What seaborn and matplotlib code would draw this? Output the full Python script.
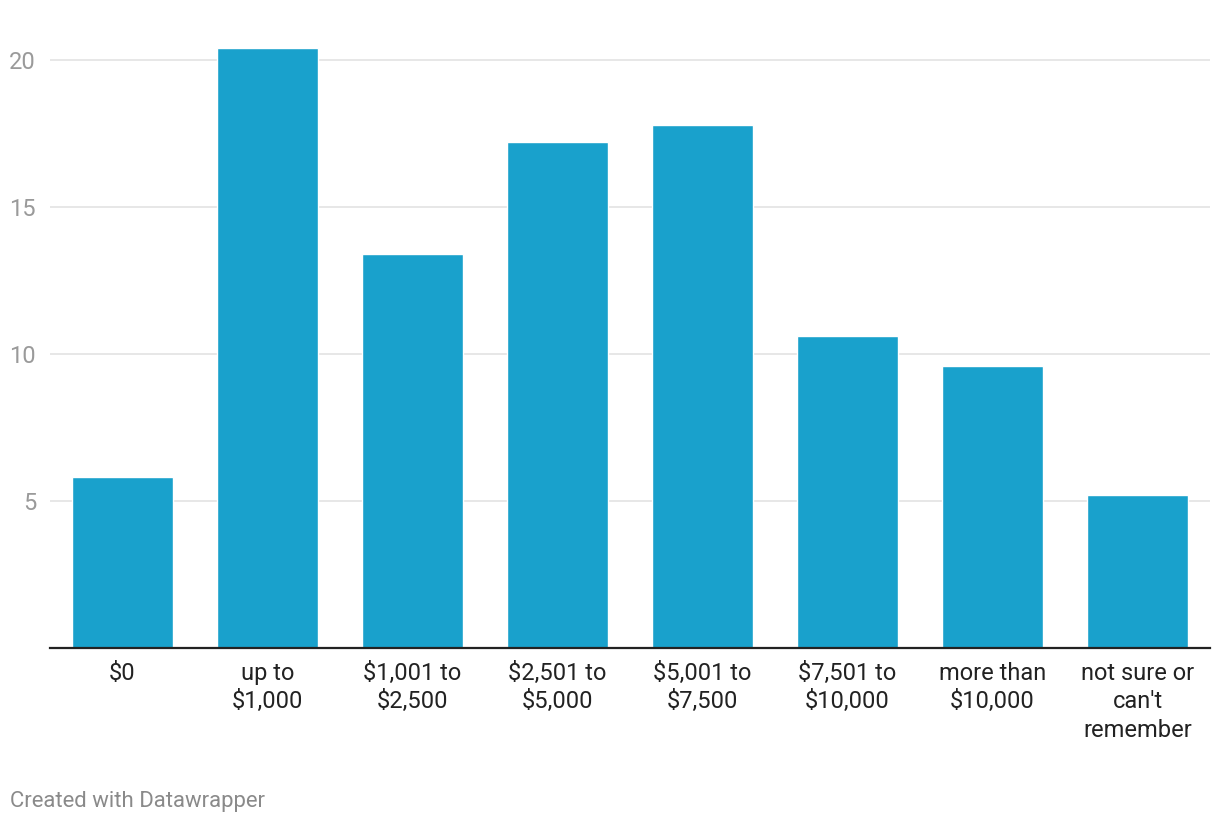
import matplotlib
matplotlib.use("Agg")
import matplotlib.pyplot as plt
import seaborn as sns
import pandas as pd

categories = ["$0", "up to\n$1,000", "$1,001 to\n$2,500", "$2,501 to\n$5,000",
              "$5,001 to\n$7,500", "$7,501 to\n$10,000", "more than\n$10,000",
              "not sure or\ncan't\nremember"]
values = [5.8, 20.4, 13.4, 17.2, 17.8, 10.6, 9.6, 5.2]
yticks = [5, 10, 15, 20]

sns.set_theme(style="white")
plt.rcParams['font.family'] = ['Roboto', 'DejaVu Sans']

W, H = 1220, 824
fig = plt.figure(figsize=(W / 100, H / 100), dpi=100)
top_px = 648 - 21 * 29.4
ax = fig.add_axes([50 / W, 1 - 648 / H, 1160 / W, (648 - top_px) / H])

df = pd.DataFrame({"cat": categories, "val": values})
sns.barplot(data=df, x="cat", y="val", color="#19a1cc", saturation=1,
            width=0.7, ax=ax, zorder=3)

ax.set_xlim(-0.5, len(categories) - 0.5)
ax.set_ylim(0, 21)
ax.set_yticks(yticks)
ax.set_yticklabels([str(t) for t in yticks])
ax.yaxis.grid(True, color="#e3e3e3", linewidth=1.2, zorder=0)
ax.set_axisbelow(True)
ax.tick_params(axis="y", length=0, pad=10, labelsize=17, labelcolor="#9a9a9a")
ax.tick_params(axis="x", length=0, pad=10, labelsize=17, labelcolor="#222222")
for lbl in ax.get_xticklabels():
    lbl.set_linespacing(1.3)
ax.set_xlabel("")
ax.set_ylabel("")
for s in ["top", "right", "left"]:
    ax.spines[s].set_visible(False)
ax.spines["bottom"].set_color("#222222")
ax.spines["bottom"].set_linewidth(1.6)
ax.spines["bottom"].set_zorder(4)

fig.text(10 / W, 1 - 801 / H, "Created with Datawrapper", color="#8a8a8a",
         fontsize=15.9, va="center", ha="left")

fig.savefig("out.png", dpi=100, facecolor="white")
